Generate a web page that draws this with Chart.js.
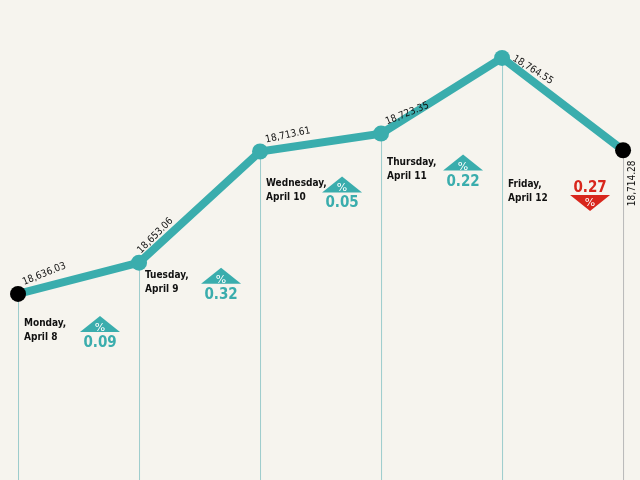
<!DOCTYPE html>
<html>
<head>
<meta charset="utf-8">
<script src="https://cdn.jsdelivr.net/npm/chart.js@4/dist/chart.umd.min.js"></script>
<style>
  body { margin: 0; background: #f6f4ee; }
  #wrap { width: 640px; height: 480px; }
</style>
</head>
<body>
<div id="wrap"><canvas id="grafico"></canvas></div>
<script>
// dados
const dias = ['Monday,', 'Tuesday,', 'Wednesday,', 'Thursday,', 'Friday,'];
const datas = ['April 8', 'April 9', 'April 10', 'April 11', 'April 12'];
const valores = [18636.03, 18653.06, 18713.61, 18723.35, 18764.55, 18714.28];
const variacoes = ['0.09', '0.32', '0.05', '0.22', '0.27'];
const direcoes = [1, 1, 1, 1, -1];

const teal = '#3aadad';
const red = '#d8261c';

// onde fica o rótulo de cada dia (relativo ao ponto)
const offsetDia = [32, 15, 35, 31, 129];
// inclinação dos valores (graus)
const angulos = [-22, -45, -12, -22, 32, -90];

const pontos = valores.map((v, i) => ({ x: i, y: v }));

const anotacoes = {
  id: 'anotacoes',
  beforeDatasetsDraw(chart) {
    const { ctx, scales: { x, y }, chartArea } = chart;
    ctx.save();
    valores.forEach((v, i) => {
      const px = x.getPixelForValue(i);
      const py = y.getPixelForValue(v);
      ctx.strokeStyle = i === valores.length - 1 ? '#b8b8b8' : '#9ccccc';
      ctx.lineWidth = 1;
      ctx.beginPath();
      ctx.moveTo(px + 0.5, py);
      ctx.lineTo(px + 0.5, chartArea.bottom);
      ctx.stroke();
    });
    ctx.restore();
  },
  afterDatasetsDraw(chart) {
    const { ctx, scales: { x, y } } = chart;
    ctx.save();
    // valores rotacionados
    ctx.fillStyle = '#111';
    ctx.font = '10px "Liberation Sans Narrow", "DejaVu Sans Condensed", sans-serif';
    valores.forEach((v, i) => {
      const px = x.getPixelForValue(i);
      const py = y.getPixelForValue(v);
      const txt = v.toLocaleString('en-US', { minimumFractionDigits: 2 });
      ctx.save();
      if (i === valores.length - 1) {
        ctx.translate(px + 12, py + 56);
      } else if (i === 4) {
        ctx.translate(px + 10, py + 2);
      } else if (i === 1) {
        ctx.translate(px + 2, py - 9);
      } else {
        ctx.translate(px + 6, py - 9);
      }
      ctx.rotate(angulos[i] * Math.PI / 180);
      ctx.textAlign = 'left';
      ctx.textBaseline = 'alphabetic';
      ctx.fillText(txt, 0, 0);
      ctx.restore();
    });

    // dias e variações
    dias.forEach((d, i) => {
      const px = x.getPixelForValue(i);
      const py = y.getPixelForValue(valores[i]);
      const ty = py + offsetDia[i];
      ctx.fillStyle = '#111';
      ctx.font = 'bold 10px "DejaVu Sans Condensed", sans-serif';
      ctx.textAlign = 'left';
      ctx.textBaseline = 'alphabetic';
      ctx.fillText(d, px + 6, ty);
      ctx.fillText(datas[i], px + 6, ty + 14);

      const cx = px + (i === 4 ? 88 : 82);
      const cor = direcoes[i] > 0 ? teal : red;
      ctx.fillStyle = cor;
      ctx.beginPath();
      let triTop;
      if (direcoes[i] > 0) {
        triTop = ty - 10;
        ctx.moveTo(cx, triTop);
        ctx.lineTo(cx + 20, triTop + 16);
        ctx.lineTo(cx - 20, triTop + 16);
      } else {
        triTop = ty + 8;
        ctx.moveTo(cx - 20, triTop);
        ctx.lineTo(cx + 20, triTop);
        ctx.lineTo(cx, triTop + 16);
      }
      ctx.closePath();
      ctx.fill();
      ctx.fillStyle = '#fff';
      ctx.font = '11px "DejaVu Sans", sans-serif';
      ctx.textAlign = 'center';
      ctx.fillText('%', cx, direcoes[i] > 0 ? triTop + 15 : triTop + 11);
      ctx.fillStyle = cor;
      ctx.font = 'bold 15px "DejaVu Sans Condensed", sans-serif';
      ctx.fillText(variacoes[i], cx, direcoes[i] > 0 ? triTop + 31 : triTop - 3);
    });
    ctx.restore();
  }
};

new Chart(document.getElementById('grafico'), {
  type: 'line',
  data: {
    datasets: [{
      data: pontos,
      borderColor: teal,
      borderWidth: 8,
      pointRadius: 8,
      pointHoverRadius: 8,
      pointBorderWidth: 0,
      pointBackgroundColor: pontos.map((p, i) => (i === 0 || i === pontos.length - 1) ? '#000' : teal),
      tension: 0,
      clip: false
    }]
  },
  options: {
    responsive: true,
    maintainAspectRatio: false,
    animation: false,
    layout: { padding: 0, autoPadding: false },
    plugins: { legend: { display: false }, tooltip: { enabled: false } },
    scales: {
      x: { type: 'linear', display: false, min: -0.149, max: 5.14 },
      y: { display: false, min: 18534.7, max: 18796.1 }
    }
  },
  plugins: [anotacoes]
});
</script>
</body>
</html>
